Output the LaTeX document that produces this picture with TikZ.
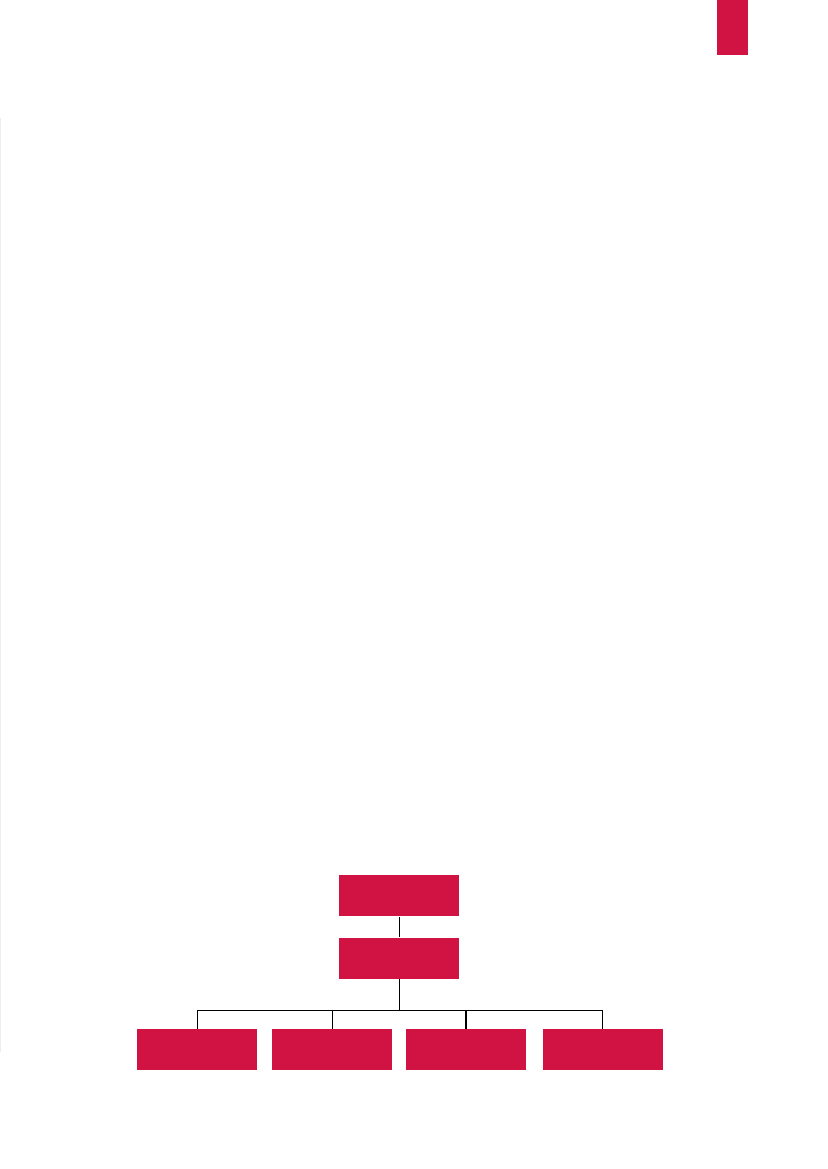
\documentclass[tikz,border=0pt]{standalone}
\definecolor{crimson}{RGB}{208,19,66}
\definecolor{faintgrey}{RGB}{236,236,242}
\tikzset{
  orgbox/.style={rectangle, fill=crimson, draw=none, inner sep=0pt, minimum width=120pt, minimum height=41pt},
  link/.style={draw=black, line width=1.1pt}
}
\begin{document}
\begin{tikzpicture}[x=1pt,y=-1pt]
\useasboundingbox[fill=white] (0,0) rectangle (827,1169);
% page tab
\fill[crimson] (717,0) rectangle (748,55);
% faint left margin line
\draw[faintgrey, line width=1.2pt] (0.8,118) -- (0.8,1052);
% org chart
\node[orgbox] (top) at (399.3,895.8) {};
\node[orgbox] (mid) at (399.3,958.0) {};
\node[orgbox] (b1) at (197.2,1049.2) {};
\node[orgbox] (b2) at (332.3,1049.2) {};
\node[orgbox] (b3) at (466.0,1049.2) {};
\node[orgbox] (b4) at (602.8,1049.2) {};
\coordinate (bus) at (399.3,1010.3);
\draw[link] (top.south) -- (mid.north);
\draw[link] (mid.south) -- (bus);
\draw[link] (b1.north) -- (b1.north |- bus) -- (b4.north |- bus) -- (b4.north);
\draw[link] (b2.north) -- (b2.north |- bus);
\draw[link] (b3.north) -- (b3.north |- bus);
\end{tikzpicture}
\end{document}
